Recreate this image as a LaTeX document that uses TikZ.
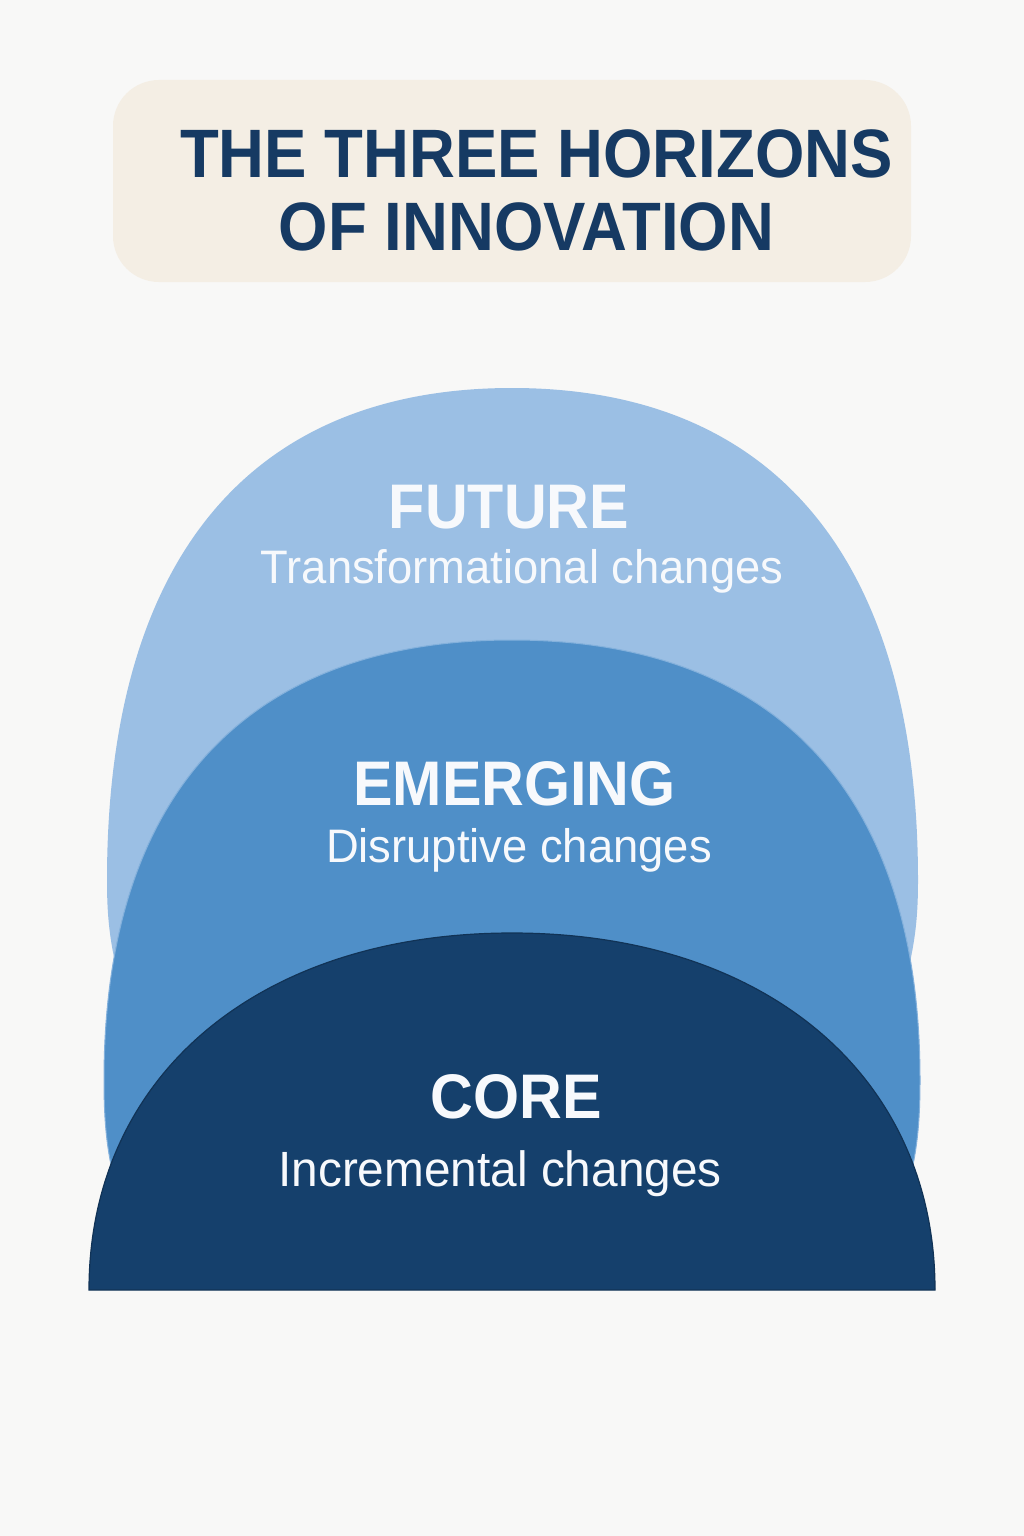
\documentclass[tikz,border=0pt]{standalone}
\usepackage{fontspec}
\setmainfont{Liberation Sans}
\newfontfamily\titlefont[FakeStretch=0.927]{Liberation Sans}
\newfontfamily\headfont[FakeStretch=0.94]{Liberation Sans}
\newfontfamily\subfont[FakeStretch=0.965]{Liberation Sans}
\definecolor{bgc}{HTML}{F8F8F7}
\definecolor{boxc}{HTML}{F4EEE4}
\definecolor{titlec}{HTML}{163A63}
\definecolor{futc}{HTML}{9BBFE4}
\definecolor{emec}{HTML}{4F8FC8}
\definecolor{corec}{HTML}{15406C}
\definecolor{txtc}{HTML}{F7F9FC}
\begin{document}
\begin{tikzpicture}[x=1pt,y=-1pt,
  lbl/.style={inner sep=0pt,anchor=base,text=txtc},
  headlbl/.style={lbl,font=\headfont\bfseries\fontsize{63}{63}\selectfont},
  sublbl/.style={lbl,font=\subfont\fontsize{47}{47}\selectfont},
  ttl/.style={inner sep=0pt,anchor=base,text=titlec,font=\titlefont\bfseries\fontsize{68.5}{68.5}\selectfont}]
\useasboundingbox (0,0) rectangle (1024,1536);
\fill[bgc] (0,0) rectangle (1024,1536);
% title box
\fill[boxc,rounded corners=46pt] (113,80) rectangle (911,282);
\node[ttl] (t1) at (536.5,177) {THE THREE HORIZONS};
\node[ttl] (t2) at (526.5,250) {OF INNOVATION};
% future
\fill[futc] (107,880) .. controls (107,560) and (249,388) .. (512,388)
  .. controls (775,388) and (918,560) .. (918,880)
  .. controls (918,920) and (915,950) .. (900,1000) -- (125,1000)
  .. controls (110,950) and (107,920) .. (107,880) -- cycle;
% emerging
\filldraw[fill=emec,draw=futc!70!emec,line width=1pt] (104,1080) .. controls (104,794) and (247,640) .. (512,640)
  .. controls (777,640) and (920,794) .. (920,1080)
  .. controls (920,1130) and (916,1160) .. (904,1200) -- (120,1200)
  .. controls (108,1160) and (104,1130) .. (104,1080) -- cycle;
% core
\filldraw[fill=corec,draw=corec!80!black,line width=1.2pt] (89,1290) .. controls (89,1076) and (258,933) .. (512,933)
  .. controls (766,933) and (935,1076) .. (935,1290) -- cycle;
% labels
\node[headlbl] (fut) at (509,528) {FUTURE};
\node[sublbl] (futsub) at (522,583) {Transformational changes};
\node[headlbl] (eme) at (514.5,805) {EMERGING};
\node[sublbl] (emesub) at (519,862) {Disruptive changes};
\node[headlbl] (core) at (516,1118) {CORE};
\node[lbl,font=\subfont\fontsize{49.5}{49.5}\selectfont] (coresub) at (500,1186) {Incremental changes};
\end{tikzpicture}
\end{document}
